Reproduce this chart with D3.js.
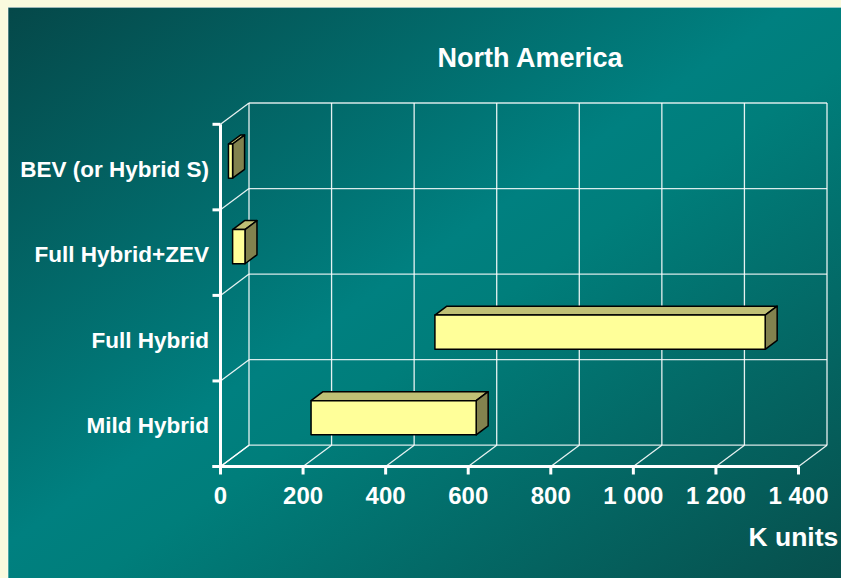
<!DOCTYPE html>
<html>
<head>
<meta charset="utf-8">
<script src="https://cdn.jsdelivr.net/npm/d3@7"></script>
<style>
  html, body { margin: 0; padding: 0; background: #fafade; }
  svg { display: block; }
  text { font-family: "Liberation Sans", Arial, sans-serif; font-weight: bold; fill: #ffffff; }
</style>
</head>
<body>
<svg id="chart" width="841" height="578"></svg>
<script>
// Production range per technology (K units): each bar floats from start to end
const categories = ["Mild Hybrid", "Full Hybrid", "Full Hybrid+ZEV", "BEV (or Hybrid S)"];
const rangeStart = [200, 500, 10, 0];
const rangeEnd = [600, 1300, 40, 10];
const xTicks = [0, 200, 400, 600, 800, 1000, 1200, 1400];
const xTickLabels = ["0", "200", "400", "600", "800", "1 000", "1 200", "1 400"];
const title = "North America";
const unitLabel = "K units";

const W = 841, H = 578;
const svg = d3.select("#chart");

// Panel background with a diagonal teal gradient
const defs = svg.append("defs");
const grad = defs.append("linearGradient")
  .attr("id", "bg").attr("x1", 0).attr("y1", 0).attr("x2", 1).attr("y2", 1);
grad.append("stop").attr("offset", 0).attr("stop-color", "#054849");
grad.append("stop").attr("offset", 0.47).attr("stop-color", "#008080");
grad.append("stop").attr("offset", 0.55).attr("stop-color", "#007e7b");
grad.append("stop").attr("offset", 1).attr("stop-color", "#074f4c");

svg.append("rect").attr("x", 0).attr("y", 0).attr("width", W).attr("height", H).attr("fill", "#fafade");
svg.append("rect").attr("x", 8).attr("y", 7).attr("width", W - 8).attr("height", H - 7).attr("fill", "url(#bg)");
svg.append("path").attr("d", `M8,${H} V7.5 H${W}`).attr("fill", "none")
  .attr("stroke", "#ffffff").attr("stroke-opacity", 0.6).attr("stroke-width", 1);

// Scales on the front plane; depth is an oblique offset
const x = d3.scaleLinear().domain([0, 1400]).range([220.5, 798.5]);
const yTop = 124.3, yBottom = 466.5;
const band = d3.scaleBand().domain(categories).range([yBottom, yTop]).paddingInner(0.6).paddingOuter(0.3);
const slot = d3.scaleBand().domain(categories).range([yBottom, yTop]).padding(0);
const depth = { dx: 28.5, dy: -21.3 };
const P = (px, py, z) => [px + z * depth.dx, py + z * depth.dy];

const boundaries = [yBottom].concat(categories.map(c => slot(c)));

const grid = svg.append("g").attr("stroke", "#ffffff").attr("fill", "none");

// Back wall verticals and floor lines
xTicks.forEach(v => {
  const fb = P(x(v), yBottom, 0), bb = P(x(v), yBottom, 1), bt = P(x(v), yTop, 1);
  grid.append("line").attr("x1", bb[0]).attr("y1", bb[1]).attr("x2", bt[0]).attr("y2", bt[1])
    .attr("stroke-width", 1.3).attr("stroke-opacity", 0.9);
  grid.append("line").attr("x1", fb[0]).attr("y1", fb[1]).attr("x2", bb[0]).attr("y2", bb[1])
    .attr("stroke-width", 1.3).attr("stroke-opacity", 0.9);
});

// Back wall horizontals and side wall diagonals at category boundaries
boundaries.forEach(yb => {
  const fl = P(x(0), yb, 0), bl = P(x(0), yb, 1), br = P(x(1400), yb, 1);
  grid.append("line").attr("x1", bl[0]).attr("y1", bl[1]).attr("x2", br[0]).attr("y2", br[1])
    .attr("stroke-width", 1.3).attr("stroke-opacity", 0.85);
  grid.append("line").attr("x1", fl[0]).attr("y1", fl[1]).attr("x2", bl[0]).attr("y2", bl[1])
    .attr("stroke-width", 1.3).attr("stroke-opacity", 0.9);
});

// Front axes with ticks
const axes = svg.append("g").attr("stroke", "#ffffff").attr("stroke-width", 3).attr("fill", "none");
axes.append("line").attr("x1", x(0)).attr("y1", yTop).attr("x2", x(0)).attr("y2", yBottom + 1.5);
axes.append("line").attr("x1", x(0) - 8).attr("y1", yBottom).attr("x2", x(1400)).attr("y2", yBottom);
boundaries.forEach(yb => {
  axes.append("line").attr("x1", x(0) - 8).attr("y1", yb).attr("x2", x(0)).attr("y2", yb);
});
xTicks.forEach(v => {
  axes.append("line").attr("x1", x(v)).attr("y1", yBottom).attr("x2", x(v)).attr("y2", yBottom + 8);
});

// 3D floating bars
const z0 = 0.28, z1 = 0.70;
const barData = categories.map((c, i) => ({ c, s: rangeStart[i], e: rangeEnd[i] }));
const bars = svg.append("g").attr("stroke", "#000000").attr("stroke-width", 1.5).attr("stroke-linejoin", "round");
barData.forEach(d => {
  const t = band(d.c), b = band(d.c) + band.bandwidth();
  const ftl = P(x(d.s), t, z0), ftr = P(x(d.e), t, z0), fbr = P(x(d.e), b, z0), fbl = P(x(d.s), b, z0);
  const btl = P(x(d.s), t, z1), btr = P(x(d.e), t, z1), bbr = P(x(d.e), b, z1);
  bars.append("polygon").attr("points", [ftl, ftr, btr, btl].map(p => p.join(",")).join(" "))
    .attr("fill", "#c0c075");
  bars.append("polygon").attr("points", [ftr, btr, bbr, fbr].map(p => p.join(",")).join(" "))
    .attr("fill", "#82824e");
  bars.append("polygon").attr("points", [ftl, ftr, fbr, fbl].map(p => p.join(",")).join(" "))
    .attr("fill", "#ffff99");
});

// Category labels
svg.append("g").selectAll("text").data(categories).join("text")
  .attr("x", 209)
  .attr("y", c => slot(c) + slot.bandwidth() / 2 + 9.5)
  .attr("text-anchor", "end")
  .attr("font-size", 22.5)
  .text(c => c);

// Value tick labels
svg.append("g").selectAll("text").data(xTicks).join("text")
  .attr("x", v => x(v))
  .attr("y", 504.3)
  .attr("text-anchor", "middle")
  .attr("font-size", 24)
  .text((v, i) => xTickLabels[i]);

svg.append("text").attr("x", 530).attr("y", 66.7).attr("text-anchor", "middle")
  .attr("font-size", 27).text(title);
svg.append("text").attr("x", 838.3).attr("y", 545.7).attr("text-anchor", "end")
  .attr("font-size", 26.5).text(unitLabel);
</script>
</body>
</html>
